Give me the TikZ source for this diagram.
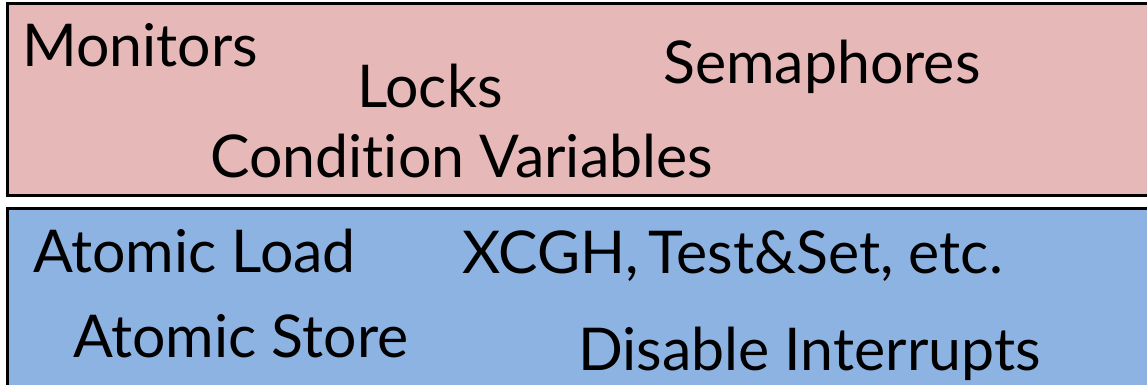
\documentclass[tikz,border=0pt]{standalone}
\usepackage{fontspec}
\setmainfont{Lato}[Ligatures={NoCommon,NoRare,NoDiscretionary}]
\definecolor{layerpink}{HTML}{E6B8B7}
\definecolor{layerblue}{HTML}{8DB3E2}
\tikzset{
	layer/.style={draw=black, line width=3pt},
	prim/.style={anchor=base west, inner sep=0pt, font=\fontsize{59}{61}\selectfont}
}

\begin{document}
\begin{tikzpicture}[x=1pt, y=-1pt]
		\clip (0,0) rectangle (1147,385);

		% high level layer
		\fill[layerpink, layer] (7,4) rectangle (1170,195.5);
		\node[prim] (monitors) at (22,67) {Monitors};
		\node[prim] (locks) at (357,107) {Locks};
		\node[prim] (semaphores) at (663,84) {Semaphores};
		\node[prim] (condvars) at (210,177) {Condition Variables};

		% hardware layer
		\fill[layerblue, layer] (7,208) rectangle (1170,420);
		\node[prim] (atomload) at (33,272) {Atomic Load};
		\node[prim] (xchg) at (462,273) {XCGH,\,Test\&Set, etc.};
		\node[prim] (atomstore) at (73,357) {Atomic Store};
		\node[prim] (disable) at (578,370) {Disable Interrupts};
	\end{tikzpicture}
\end{document}
